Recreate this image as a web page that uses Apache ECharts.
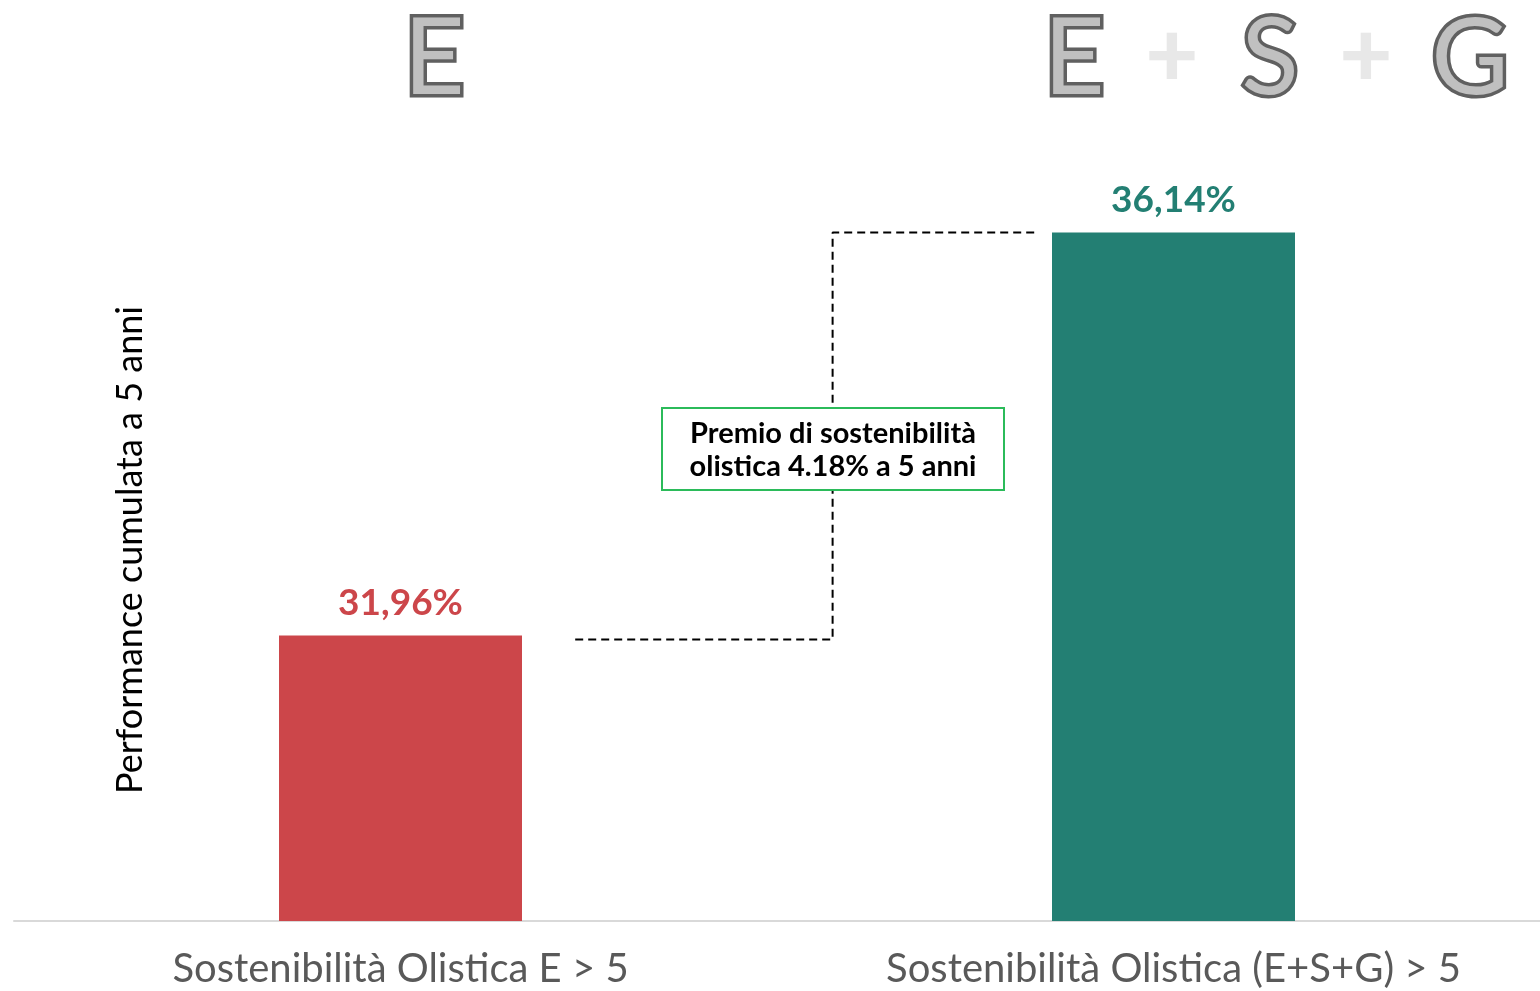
<!DOCTYPE html>
<html><head><meta charset="utf-8">
<script src="https://cdn.jsdelivr.net/npm/echarts@6/dist/echarts.min.js"></script>
<style>html,body{margin:0;padding:0;background:#fff;overflow:hidden;width:1540px;height:991px}#c{width:1560px;height:991px}</style>
</head><body><div id="c"></div>
<script>
const categories = ['Sostenibilità Olistica E > 5', 'Sostenibilità Olistica (E+S+G) > 5'];
const values = [31.96, 36.14];
const valueLabels = ['31,96%', '36,14%'];
const barColors = ['#cc464a', '#237f73'];
const connectorPoints = [[0.726, 31.92], [1.059, 31.92], [1.059, 36.14], [1.321, 36.14]];
const yName = 'Performance cumulata a 5 anni';
const boxText = ['Premio di sostenibilità', 'olistica 4.18% a 5 anni'];
const headerLeft = ['E'];
const headerRight = ['E', '+', 'S', '+', 'G'];

const chart = echarts.init(document.getElementById('c'));
const FONT = 'Lato, "Noto Sans", sans-serif';

function letter(t, cx, isPlus) {
  return {
    type: 'text', x: cx, y: isPlus ? 57 : 60, z: 10,
    style: {
      text: t, x: 0, y: 0, align: 'center', verticalAlign: 'middle',
      font: (isPlus ? '900 92px ' : '400 106px ') + FONT,
      fill: isPlus ? '#e8e8e8' : '#c0c0c0',
      stroke: isPlus ? null : '#606060', lineWidth: isPlus ? 0 : 7,
      strokeFirst: true
    }
  };
}
const rightX = [1074, 1172, 1270, 1366, 1470];

chart.setOption({
  animation: false,
  grid: { left: 14, right: 0, top: 53, bottom: 70, containLabel: false },
  xAxis: [{
    type: 'category', data: categories,
    axisLine: { lineStyle: { color: '#d9d9d9', width: 2 } },
    axisTick: { show: false },
    axisLabel: { color: '#595959', fontSize: 40, fontFamily: FONT, margin: 28 }
  }, {
    type: 'value', min: 0, max: 2, show: false
  }],
  yAxis: {
    type: 'value', min: 29, max: 38, show: false
  },
  series: [{
    type: 'bar', barWidth: 243,
    data: values.map((v, i) => ({
      value: v, itemStyle: { color: barColors[i] },
      label: { show: true, position: 'top', distance: 14, formatter: valueLabels[i],
        color: barColors[i], fontSize: 37, fontWeight: 'bold', fontFamily: FONT }
    }))
  }, {
    type: 'line', xAxisIndex: 1, data: connectorPoints, symbol: 'none',
    lineStyle: { color: '#000', width: 2, type: [8, 5] }, z: 1
  }],
  graphic: [
    {
      type: 'text', x: 130, y: 550, rotation: Math.PI / 2,
      style: { text: yName, align: 'center', verticalAlign: 'middle',
        font: '400 36px ' + FONT, fill: '#000' }
    },
    {
      type: 'rect', z: 100, shape: { x: 662, y: 408, width: 342, height: 82 },
      style: { fill: '#fff', stroke: '#2bbb5a', lineWidth: 2 }
    },
    {
      type: 'text', z: 101, x: 833, y: 450,
      style: { text: boxText.join('\n'), align: 'center', verticalAlign: 'middle',
        font: '700 29px ' + FONT, fill: '#000', lineHeight: 33 }
    },
    letter(headerLeft[0], 434, false),
    ...headerRight.map((t, i) => letter(t, rightX[i], t === '+'))
  ]
});
</script></body></html>
